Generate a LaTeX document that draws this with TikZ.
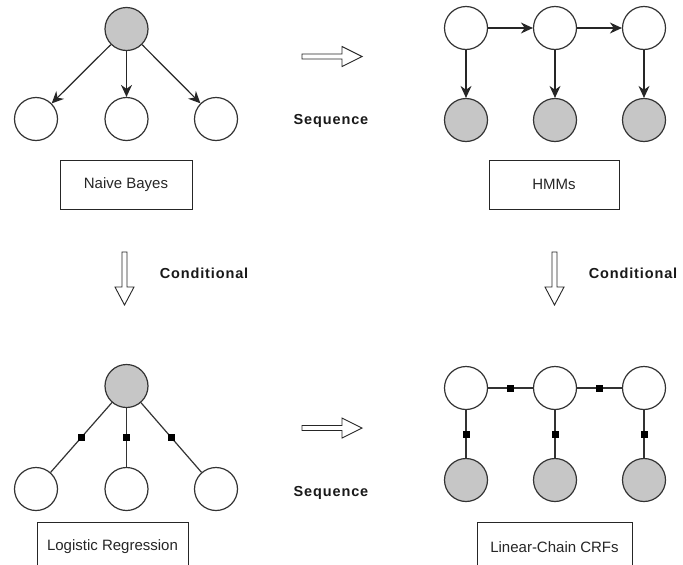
\documentclass[tikz,border=0pt]{standalone}
\usepackage{fontspec}
\setmainfont{Liberation Sans}
\newfontfamily\tagfont{Liberation Sans}[LetterSpace=6]
\usetikzlibrary{arrows.meta}
\definecolor{edgegray}{HTML}{333333}
\definecolor{obsgray}{HTML}{C6C6C6}
\tikzset{
  var/.style={circle, draw=edgegray, line width=1.2pt, fill=white, minimum size=43pt, inner sep=0pt},
  obs/.style={var, fill=obsgray},
  dep/.style={draw=black!85, line width=1.2pt, -{Stealth[length=12pt, width=11pt]}},
  link/.style={draw=black!80, line width=1.2pt},
  factor/.style={fill=black, minimum size=7pt, inner sep=0pt},
  model/.style={draw=black!85, line width=1pt, minimum width=131pt, minimum height=49pt, font=\fontsize{15}{17}\selectfont, text=black!85},
  tag/.style={font=\tagfont\bfseries\fontsize{14.5}{16}\selectfont, text=black!90},
  bigarrow/.pic={
    \draw[draw=black!85, line width=0.9pt, fill=white, line join=miter]
      (0,-2.5) -- (40,-2.5) -- (40,-10) -- (60,0) -- (40,10) -- (40,2.5) -- (0,2.5) -- cycle;
  },
  downarrow/.pic={
    \draw[draw=black!85, line width=0.9pt, fill=white, line join=miter]
      (-2.5,0) -- (-2.5,35) -- (-9.5,35) -- (0,53) -- (9.5,35) -- (2.5,35) -- (2.5,0) -- cycle;
  }
}
\begin{document}
\begin{tikzpicture}[x=1pt, y=-1pt]
\clip (0,0) rectangle (683,565);
\fill[white] (0,0) rectangle (683,565);

% Naive Bayes
\node[obs] (nbc) at (126.5,29) {};
\node[var] (nb1) at (36,119) {};
\node[var] (nb2) at (126.5,119) {};
\node[var] (nb3) at (216,119) {};
\draw[dep] (nbc) -- (nb1);
\draw[dep] (nbc) -- (nb2);
\draw[dep] (nbc) -- (nb3);
\node[model, minimum width=132pt] (nbbox) at (126,184.5) {Naive Bayes};

% HMMs
\node[var] (h1) at (466,28) {};
\node[var] (h2) at (555,28) {};
\node[var] (h3) at (644,28) {};
\node[obs] (o1) at (466,120) {};
\node[obs] (o2) at (555,120) {};
\node[obs] (o3) at (644,120) {};
\draw[dep] (h1) -- (h2);
\draw[dep] (h2) -- (h3);
\draw[dep] (h1) -- (o1);
\draw[dep] (h2) -- (o2);
\draw[dep] (h3) -- (o3);
\node[model, minimum width=130pt] (hmmbox) at (554,184.5) {HMMs};

% Logistic Regression
\node[obs] (lrc) at (126.5,386) {};
\node[var] (lr1) at (36,489) {};
\node[var] (lr2) at (126.5,489) {};
\node[var] (lr3) at (216,489) {};
\draw[link] (lrc) -- node[factor] (f1) {} (lr1);
\draw[link] (lrc) -- node[factor] (f2) {} (lr2);
\draw[link] (lrc) -- node[factor] (f3) {} (lr3);
\node[model, minimum width=151pt] (lrbox) at (112.5,547) {Logistic Regression};

% Linear-chain CRFs
\node[var] (c1) at (466,388) {};
\node[var] (c2) at (555,388) {};
\node[var] (c3) at (644,388) {};
\node[obs] (x1) at (466,480) {};
\node[obs] (x2) at (555,480) {};
\node[obs] (x3) at (644,480) {};
\draw[link] (c1) -- node[factor] (g1) {} (c2);
\draw[link] (c2) -- node[factor] (g2) {} (c3);
\draw[link] (c1) -- node[factor] (g3) {} (x1);
\draw[link] (c2) -- node[factor] (g4) {} (x2);
\draw[link] (c3) -- node[factor] (g5) {} (x3);
\node[model, minimum width=155pt] (crfbox) at (554.5,547) {Linear-Chain CRFs};

% Transitions between models
\pic at (302,56.5) {bigarrow};
\node[tag] (seq1) at (331,121) {Sequence};
\pic at (302,428) {bigarrow};
\node[tag] (seq2) at (331,493) {Sequence};
\pic at (124.5,252) {downarrow};
\node[tag] (cond1) at (204,273) {Conditional};
\pic at (554.5,252) {downarrow};
\node[tag] (cond2) at (633,273) {Conditional};
\end{tikzpicture}
\end{document}
